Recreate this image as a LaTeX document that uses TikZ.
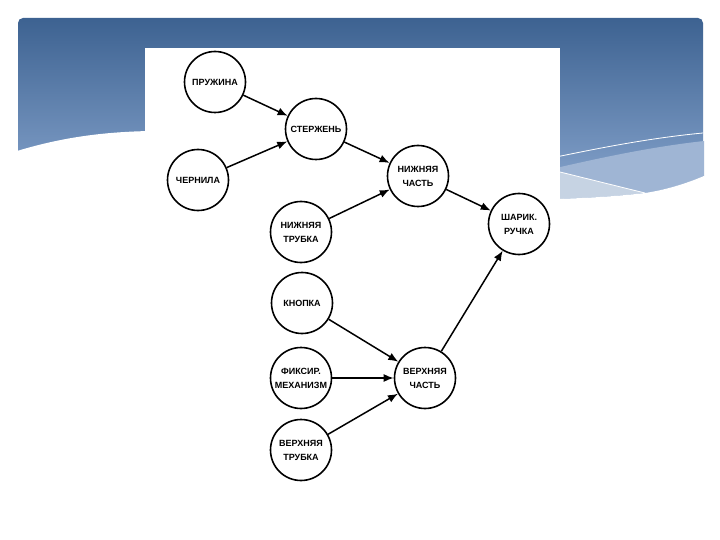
\documentclass[tikz,border=0pt]{standalone}
\usepackage{fontspec}
\setmainfont{Liberation Sans}
\usetikzlibrary{arrows.meta}
\definecolor{hdrtop}{HTML}{3D6291}
\definecolor{hdrbot}{HTML}{8DAAD2}
\definecolor{bandone}{HTML}{9FB5D4}
\definecolor{bandtwo}{HTML}{C6D3E3}
\begin{document}
\begin{tikzpicture}[x=1pt,y=-1pt,
  part/.style={circle,draw=black,line width=1.6pt,minimum size=61pt,inner sep=0pt,fill=white,align=center,font=\fontsize{9}{14}\selectfont\bfseries},
  link/.style={line width=1.5pt,-{Latex[length=10pt,width=8pt]}},
  wisp/.style={white,line width=0.8pt}]
\useasboundingbox (0,0) rectangle (720,540);
\fill[white] (0,0) rectangle (720,540);
% header
\shade[top color=hdrtop,bottom color=hdrbot,rounded corners=5pt] (18,210) -- (18,18) -- (703,18) -- (703,210);
% right bands
\fill[bandone] (556,168) .. controls (600,158) and (650,147) .. (704,141) -- (704,176) .. controls (685,184) and (665,190) .. (645,193) -- (556,171) -- cycle;
\fill[bandtwo] (556,171) -- (645,193) .. controls (620,196) and (590,198) .. (556,199) -- cycle;
\fill[white] (556,199) .. controls (590,198) and (620,196) .. (645,193) .. controls (665,190) and (685,184) .. (704,176) -- (705,215) -- (556,215) -- cycle;
\draw[wisp] (556,157) .. controls (600,148) and (650,138) .. (703,133);
\draw[wisp] (556,171) -- (645,193);
% left wave
\fill[white] (17,151) .. controls (60,138) and (100,132) .. (150,131) -- (150,215) -- (17,215) -- cycle;
% white board
\fill[white] (145,48) rectangle (560,520);
% nodes
\node[part] (prz) at (215,82) {ПРУЖИНА};
\node[part] (ster) at (316,129) {СТЕРЖЕНЬ};
\node[part] (cher) at (198,180) {ЧЕРНИЛА};
\node[part] (nch) at (418,176) {НИЖНЯЯ\\ЧАСТЬ};
\node[part] (shar) at (519,224) {ШАРИК.\\РУЧКА};
\node[part] (ntr) at (301,232) {НИЖНЯЯ\\ТРУБКА};
\node[part] (kn) at (302,303) {КНОПКА};
\node[part] (fix) at (301,378) {ФИКСИР.\\МЕХАНИЗМ};
\node[part] (vtr) at (301,450) {ВЕРХНЯЯ\\ТРУБКА};
\node[part] (vch) at (425,378) {ВЕРХНЯЯ\\ЧАСТЬ};
% links
\draw[link] (prz) -- (ster);
\draw[link] (cher) -- (ster);
\draw[link] (ster) -- (nch);
\draw[link] (ntr) -- (nch);
\draw[link] (nch) -- (shar);
\draw[link] (kn) -- (vch);
\draw[link] (fix) -- (vch);
\draw[link] (vtr) -- (vch);
\draw[link] (vch) -- (shar);
\end{tikzpicture}
\end{document}
